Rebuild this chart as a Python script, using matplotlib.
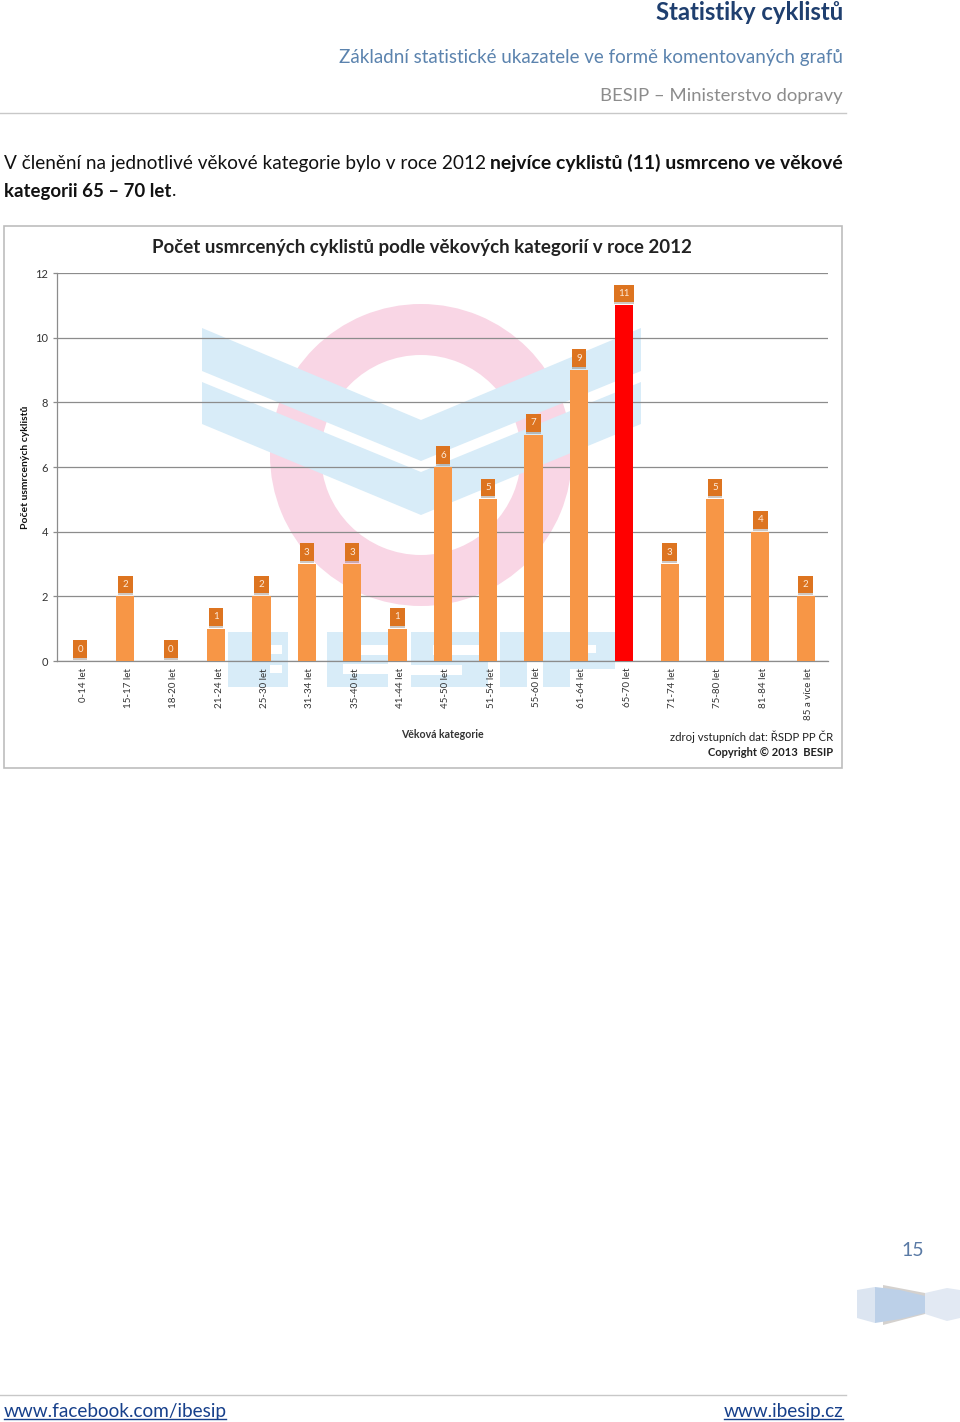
#!/usr/bin/env python3
# Page from the BESIP cyclist statistics report: bar chart of deaths by age group
import matplotlib
matplotlib.use('Agg')
import matplotlib.pyplot as plt
import matplotlib.patheffects as pe
from matplotlib.patches import Polygon, Rectangle, Wedge

plt.rcParams['font.family'] = ['Lato', 'DejaVu Sans']

W, H = 960, 1422

# Chart data
categories = ['0-14 let', '15-17 let', '18-20 let', '21-24 let', '25-30 let', '31-34 let',
              '35-40 let', '41-44 let', '45-50 let', '51-54 let', '55-60 let', '61-64 let',
              '65-70 let', '71-74 let', '75-80 let', '81-84 let', '85 a více let']
values = [0, 2, 0, 1, 2, 3, 3, 1, 6, 5, 7, 9, 11, 3, 5, 4, 2]
y_ticks = [0, 2, 4, 6, 8, 10, 12]
highlight = '65-70 let'

ORANGE = '#F79646'
LABEL_BOX = '#DD7420'
WM_BLUE = '#D8ECF8'
WM_PINK = '#F9D6E5'
HEAD_BLUE = '#1F3F6F'
SUB_BLUE = '#5B83AE'
GREY = '#8C8C8C'
LINK = '#17408B'

fig = plt.figure(figsize=(W / 100, H / 100), dpi=100, facecolor='white')

# Page layer, in image pixels
page = fig.add_axes([0, 0, 1, 1], zorder=0)
page.set_xlim(0, W)
page.set_ylim(H, 0)
page.axis('off')

# Header
page.text(843, 12, 'Statistiky cyklistů', ha='right', va='center', fontsize=17.2,
          fontweight='bold', color=HEAD_BLUE)
page.text(843, 57, 'Základní statistické ukazatele ve formě komentovaných grafů', ha='right',
          va='center', fontsize=13.5, color=SUB_BLUE)
page.text(843, 96, 'BESIP – Ministerstvo dopravy', ha='right', va='center', fontsize=13.3,
          color=GREY)
page.plot([0, 846], [113, 113], color='#C8C8C8', lw=1)

# Body text
page.text(4, 163, 'V členění na jednotlivé věkové kategorie bylo v roce 2012', ha='left',
          va='center', fontsize=13.65, color='#111111')
page.text(843, 163, 'nejvíce cyklistů (11) usmrceno ve věkové', ha='right', va='center',
          fontsize=13.98, fontweight='bold', color='#111111')
page.text(4, 191, 'kategorii 65 – 70 let', ha='left', va='center', fontsize=13.4,
          fontweight='bold', color='#111111')
page.text(172, 191, '.', ha='left', va='center', fontsize=13.4, color='#111111')

# Picture frame
page.add_patch(Rectangle((3.5, 225.5), 838, 542, fc='white', ec='#BDBDBD', lw=1.2))

# Watermark: ring, chevrons and BESIP letters
page.add_patch(Wedge((421, 455), 151, 0, 360, width=51, fc=WM_PINK, ec='none'))
for top_l, bot_l, top_m, bot_m in [(328, 371, 420, 461), (382, 424, 472, 515)]:
    page.add_patch(Polygon([(202, top_l), (421, top_m), (641, top_l), (641, bot_l),
                            (421, bot_m), (202, bot_l)], fc=WM_BLUE, ec='none'))
letter_bars = [
    (228, 632, 60, 55), (327, 632, 61, 55), (411, 632, 77, 55),
    (500, 632, 27, 55), (543, 632, 72, 37), (543, 669, 27, 18),
]
for x, y, w, h in letter_bars:
    page.add_patch(Rectangle((x, y), w, h, fc=WM_BLUE, ec='none'))
letter_gaps = [
    (270, 645, 12, 9), (270, 665, 12, 8), (343, 645, 45, 10), (343, 664, 45, 10),
    (433, 645, 55, 10), (411, 665, 51, 10), (582, 645, 14, 8),
]
for x, y, w, h in letter_gaps:
    page.add_patch(Rectangle((x, y), w, h, fc='white', ec='none'))

# Chart captions
page.text(422, 247, 'Počet usmrcených cyklistů podle věkových kategorií v roce 2012', ha='center',
          va='center', fontsize=13.5, fontweight='bold', color='#222222')
page.text(26, 467, 'Počet usmrcených cyklistů', rotation=90, ha='center', va='center',
          fontsize=7.5, fontweight='bold', color='#111111')
page.text(442, 735, 'Věková kategorie', ha='center', va='center', fontsize=7.6,
          fontweight='bold', color='#333333')
page.text(833, 737, 'zdroj vstupních dat: ŘSDP PP ČR', ha='right', va='center', fontsize=8.2,
          color='#222222')
page.text(833, 753, 'Copyright © 2013  BESIP', ha='right', va='center', fontsize=8,
          fontweight='bold', color='#222222')

# Page number and corner ornament
page.text(913, 1250, '15', ha='center', va='center', fontsize=14, color='#5A7AA5')
page.add_patch(Polygon([(857, 1290), (875, 1287), (875, 1323), (857, 1318)], fc='#DCE5F1', ec='none'))
page.add_patch(Polygon([(883, 1285), (925, 1293), (925, 1314), (883, 1325)], fc='#D4D1CE', ec='none'))
page.add_patch(Polygon([(875, 1287), (900, 1290), (925, 1296), (925, 1313), (900, 1319), (875, 1323)],
                       fc='#BCD0E8', ec='none'))
page.add_patch(Polygon([(925, 1293), (947, 1288), (960, 1290), (960, 1318), (947, 1321), (925, 1314)],
                       fc='#E2E9F3', ec='none'))

# Footer links
page.plot([0, 846], [1395, 1395], color='#C8C8C8', lw=1)
page.text(4, 1411, 'www.facebook.com/ibesip', ha='left', va='center', fontsize=13.65, color=LINK)
page.plot([4, 226], [1419, 1419], color=LINK, lw=1)
page.text(843, 1411, 'www.ibesip.cz', ha='right', va='center', fontsize=13.65, color=LINK)
page.plot([724, 843], [1419, 1419], color=LINK, lw=1)

# Chart axes sit on top of the page, transparent so the watermark shows through
x0, x1, y_top, y_bot = 57.4, 828.3, 273, 661
ax = fig.add_axes([x0 / W, 1 - y_bot / H, (x1 - x0) / W, (y_bot - y_top) / H], zorder=1)
ax.patch.set_alpha(0)

colors = ['#FF0000' if c == highlight else ORANGE for c in categories]
xs = range(len(categories))
ax.bar(xs, values, width=0.4, color=colors, zorder=3)

for i, v in enumerate(values):
    lab = ax.annotate(str(v), (i, v), xytext=(0, 8.5), textcoords='offset points', ha='center',
                      va='center', fontsize=7, color='#FDEBDA', zorder=4,
                      bbox=dict(boxstyle='square,pad=0.45', fc=LABEL_BOX, ec='none'))
    lab.get_bbox_patch().set_path_effects([pe.withSimplePatchShadow(offset=(0, -1.5), alpha=0.25)])

ax.set_xlim(-0.5, len(categories) - 0.5)
ax.set_ylim(0, 12)
ax.set_yticks(y_ticks)
ax.set_xticks(list(xs))
ax.set_xticklabels([])
# category labels as annotations: plain tick labels sit 3 px left of the bars
for i, cat in enumerate(categories):
    ax.annotate(cat, (i, 0), xytext=(2.2, -5), textcoords='offset points', rotation=90,
                ha='center', va='top', fontsize=7, color='#333333', annotation_clip=False)
ax.tick_params(axis='x', length=0)
ax.tick_params(axis='y', length=3, width=0.9, color=GREY, labelsize=8, labelcolor='#333333', pad=3.5)
ax.grid(axis='y', color=GREY, lw=0.9, zorder=1)
ax.set_axisbelow(True)
for side in ['top', 'right']:
    ax.spines[side].set_visible(False)
for side in ['left', 'bottom']:
    ax.spines[side].set_color(GREY)
    ax.spines[side].set_linewidth(0.9)

plt.savefig('out.png', dpi=100)
